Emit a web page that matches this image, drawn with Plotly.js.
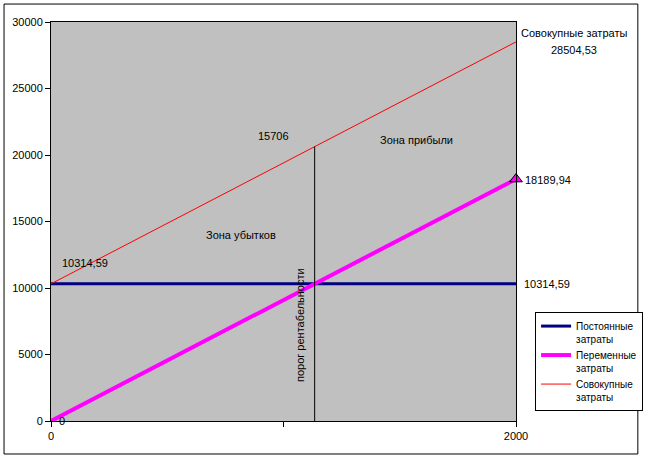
<!DOCTYPE html>
<html><head><meta charset="utf-8">
<script src="https://cdn.plot.ly/plotly-3.0.1.min.js"></script>
<style>body{margin:0;background:#fff}#c{width:648px;height:460px}</style>
</head><body><div id="c"></div>
<script>
const volume = [0, 2000];
const fixedCosts = [10314.59, 10314.59];
const variableCosts = [0, 18189.94];
const totalCosts = [10314.59, 28504.53];
const breakEvenX = [1134, 1134];
const breakEvenY = [0, 20629];
const seriesNames = ["Постоянные<br>затраты", "Переменные<br>затраты", "Совокупные<br>затраты"];
const xTickVals = [0, 1000, 2000];
const xTickText = ["0", "", "2000"];
const yTickVals = [0, 5000, 10000, 15000, 20000, 25000, 30000];
const yTickText = ["0", "5000", "10000", "15000", "20000", "25000", "30000"];

const F = "Arial, 'Liberation Sans', sans-serif";
const traces = [
  {x: volume, y: fixedCosts, name: seriesNames[0], mode: "lines", line: {color: "#000080", width: 3}},
  {x: volume, y: variableCosts, name: seriesNames[1], mode: "lines", line: {color: "#FF00FF", width: 4}},
  {x: volume, y: totalCosts, name: seriesNames[2], mode: "lines", line: {color: "#FF0000", width: 1}},
  {x: volume.slice(1), y: variableCosts.slice(1), mode: "markers", showlegend: false, cliponaxis: false,
   marker: {symbol: "triangle-up", size: 11, color: "#FF00FF", line: {color: "#000", width: 1}}},
  {x: breakEvenX, y: breakEvenY, mode: "lines", showlegend: false, line: {color: "#000", width: 1}}
];

function ann(text, x, y, opts) {
  return Object.assign({text: text, x: x, y: y, xref: "x", yref: "y", showarrow: false,
    xanchor: "center", yanchor: "middle",
    font: {family: F, size: 11, color: "#000"}}, opts || {});
}
const layout = {
  width: 648, height: 460,
  margin: {l: 51, r: 132, t: 22, b: 39, autoexpand: false},
  paper_bgcolor: "#fff", plot_bgcolor: "#C0C0C0",
  font: {family: F, size: 11, color: "#000"},
  xaxis: {range: [0, 2000], tickvals: xTickVals, ticktext: xTickText, ticks: "outside", ticklen: 5,
    tickcolor: "#000", showline: true, linecolor: "#000", linewidth: 1, mirror: true, showgrid: false, zeroline: false,
    tickfont: {family: F, size: 11}},
  yaxis: {range: [0, 30000], tickvals: yTickVals, ticktext: yTickText, ticks: "outside", ticklen: 5, tickcolor: "#000",
    showline: true, linecolor: "#000", linewidth: 1, mirror: true, showgrid: false, zeroline: false,
    tickfont: {family: F, size: 11}},
  legend: {x: 1.041, y: 0.273, xanchor: "left", yanchor: "top", bgcolor: "#fff", bordercolor: "#000", borderwidth: 1,
    font: {family: F, size: 10}, valign: "top", tracegroupgap: 0, itemwidth: 30},
  annotations: [
    ann("Совокупные затраты", 1.125, 0.972, {xref: "paper", yref: "paper"}),
    ann("28504,53", 1.125, 0.93, {xref: "paper", yref: "paper"}),
    ann("18189,94", 1.015, 0.604, {xref: "paper", yref: "paper", xanchor: "left"}),
    ann("10314,59", 1.013, 0.343, {xref: "paper", yref: "paper", xanchor: "left"}),
    ann("10314,59", 38, 11880, {xanchor: "left"}),
    ann("15706", 959, 21429),
    ann("Зона прибыли", 1574, 21128),
    ann("Зона убытков", 817, 13985),
    ann("порог рентабельности", 1071, 7218, {textangle: -90}),
    ann("0", 47, 0)
  ],
  shapes: [{type: "rect", xref: "paper", yref: "paper", x0: -0.101, x1: 1.262, y0: -0.0827, y1: 1.045,
    line: {color: "#000", width: 1}}]
};
Plotly.newPlot("c", traces, layout, {displayModeBar: false, staticPlot: true});
</script></body></html>
